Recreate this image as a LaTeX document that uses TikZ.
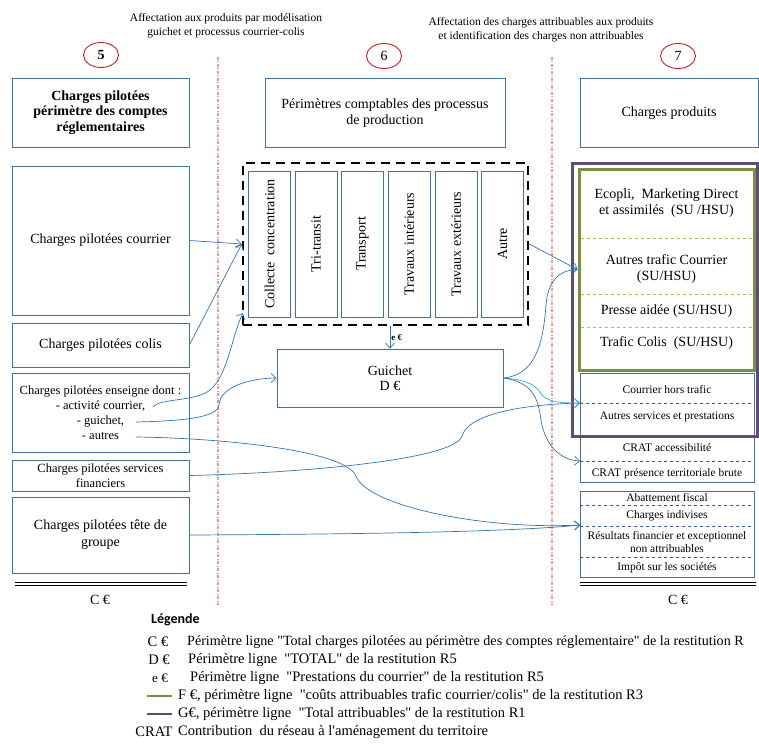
\documentclass[tikz,border=0pt]{standalone}
\usepackage{fontspec}
\setmainfont{Liberation Serif}[Ligatures=TeXOff]
\newfontfamily\legfont{Carlito}
\usetikzlibrary{arrows.meta,shapes.geometric}

\definecolor{boxblue}{HTML}{41719C}
\definecolor{fluxblue}{HTML}{2E75B6}
\definecolor{fluxcyan}{HTML}{1FB0E8}
\definecolor{numred}{HTML}{C8201E}
\definecolor{splitred}{HTML}{F29A92}
\definecolor{grn}{HTML}{77933C}
\definecolor{lgrn}{HTML}{92D050}
\definecolor{prp}{HTML}{604A7B}
\definecolor{dkblue}{HTML}{2F5597}

\newcommand{\bigtxt}{\fontsize{14}{15.5}\selectfont}
\newcommand{\smalltxt}{\fontsize{11.5}{14}\selectfont}
\newcommand{\midtxt}{\fontsize{12.5}{15}\selectfont}
\newcommand{\legtxt}{\fontsize{14.5}{17}\selectfont}

\begin{document}
\begin{tikzpicture}[x=1pt,y=-1pt,>={Straight Barb[length=5pt,width=9pt]},
  every node/.style={font=\bigtxt,inner sep=1pt},
  cbox/.style={draw=boxblue,line width=0.8pt,align=center},
  num/.style={draw=numred,ellipse,line width=0.9pt,minimum width=35pt,minimum height=25pt,inner sep=0pt},
  proc/.style={cbox,rotate=90,minimum width=146pt,minimum height=42pt},
  flux/.style={->,draw=fluxblue,line width=0.7pt},
  split/.style={draw=splitred,line width=1.2pt,dash pattern=on 3pt off 1.5pt on 1pt off 1.5pt},
  sepg/.style={draw=lgrn,dashed,line width=0.7pt},
  sepb/.style={draw=dkblue,dashed,line width=0.7pt},
  total/.style={line width=0.8pt},
  legsym/.style={font=\legtxt},
  legtext/.style={font=\legtxt,anchor=west}]
\useasboundingbox (0,0) rectangle (759,749);

% titres des etapes
\node[font=\smalltxt,align=center] (aff1) at (226,26) {Affectation aux produits par modélisation\\guichet et processus courrier-colis};
\node[font=\smalltxt,align=center] (aff2) at (541,30) {Affectation des charges attribuables aux produits\\et identification des charges non attribuables};
\node[num,font=\bigtxt\bfseries] (n5) at (101,55) {5};
\node[num] (n6) at (384,56) {6};
\node[num] (n7) at (678,56) {7};

% separations
\draw[split] (218,57) -- (218,605);
\draw[split] (552,57) -- (552,605);

% colonne 5
\node[cbox,minimum width=177pt,minimum height=69pt,font=\bigtxt\bfseries] (h5) at (100.5,112.5) {Charges pilotées\\périmètre des comptes\\réglementaires};
\node[cbox,minimum width=177pt,minimum height=149pt] (courrier) at (100.5,240.5) {Charges pilotées courrier};
\node[cbox,minimum width=177pt,minimum height=44pt] (colis) at (100.5,345) {Charges pilotées colis};
\node[cbox,minimum width=177pt,minimum height=79pt,font=\midtxt] (enseigne) at (100.5,412.5) {Charges pilotées enseigne dont :\\- activité courrier,\\- guichet,\\- autres};
\node[cbox,minimum width=177pt,minimum height=31pt,font=\midtxt] (finance) at (100.5,475.5) {Charges pilotées services\\financiers};
\node[cbox,minimum width=177pt,minimum height=76pt,font=\fontsize{14}{17}\selectfont] (tete) at (100.5,535) {Charges pilotées tête de\\groupe};
\draw[total] (15,582) -- (187,582);
\draw[total] (15,585) -- (187,585);
\node (c5) at (100,600) {C €};
\coordinate (enscour) at (153,407);
\coordinate (ensgui) at (136,422);
\coordinate (ensaut) at (136,437);

% colonne 6
\node[cbox,minimum width=240pt,minimum height=69pt] (h6) at (385,113) {Périmètres comptables des processus\\de production};
\node[draw,line width=2.6pt,dash pattern=on 9pt off 6pt,minimum width=285pt,minimum height=162pt] (procs) at (385.5,244) {};
\node[proc] (p1) at (269.5,244) {Collecte~~concentration};
\node[proc] (p2) at (316,244) {Tri-transit};
\node[proc] (p3) at (362.5,244) {Transport};
\node[proc] (p4) at (409,244) {Travaux intérieurs};
\node[proc] (p5) at (456,244) {Travaux extérieurs};
\node[proc] (p6) at (502.5,244) {Autre};
\node[cbox,minimum width=226pt,minimum height=58pt] (guichet) at (390,378) {Guichet\\D €};
\coordinate (procin) at (243,313);

% colonne 7
\node[cbox,minimum width=178pt,minimum height=69pt] (h7) at (669,113) {Charges produits};
\node[draw=grn,line width=3pt,minimum width=175pt,minimum height=201pt] (traf) at (666.5,269.5) {};
\draw[sepg] (581,238) -- (752,238);
\draw[sepg] (581,294) -- (752,294);
\draw[sepg] (581,327) -- (752,327);
\node[align=center] (ecopli) at (666.5,203) {Ecopli,~ Marketing Direct\\et assimilés~ (SU /HSU)};
\node[align=center] (autc) at (666.5,269) {Autres trafic Courrier\\(SU/HSU)};
\node (presse) at (666.5,311) {Presse aidée (SU/HSU)};
\node (trcolis) at (666.5,343) {Trafic Colis~ (SU/HSU)};

\node[cbox,minimum width=174pt,minimum height=109pt] (serv) at (667,427.5) {};
\draw[sepb] (580,403) -- (754,403);
\draw[sepb] (580,461) -- (754,461);
\draw[draw=boxblue,line width=0.8pt] (580,437) -- (754,437);
\node[font=\smalltxt] (horstr) at (667,390) {Courrier hors trafic};
\node[font=\smalltxt] (autserv) at (667,417) {Autres services et prestations};
\node[font=\smalltxt] (cracc) at (667,448) {CRAT accessibilité};
\node[font=\smalltxt] (crpres) at (667,474) {CRAT présence territoriale brute};
\node[draw=prp,line width=3pt,minimum width=185pt,minimum height=273pt] (attr) at (664.5,299.5) {};

\node[cbox,minimum width=174pt,minimum height=86pt] (nonattr) at (667,534) {};
\draw[sepb] (580,505) -- (754,505);
\draw[sepb] (580,526) -- (754,526);
\draw[sepb] (580,557) -- (754,557);
\node[font=\smalltxt] (abat) at (667,497.5) {Abattement fiscal};
\node[font=\smalltxt] (indiv) at (667,516) {Charges indivises};
\node[align=center,font=\fontsize{11.5}{13}\selectfont] (resfin) at (667,542) {Résultats financier et exceptionnel\\non attribuables};
\node[font=\smalltxt] (impot) at (667,568) {Impôt sur les sociétés};
\draw[total] (580,582) -- (756,582);
\draw[total] (580,585) -- (756,585);
\node (c7) at (678,600) {C €};
\coordinate (svin) at (580,403);
\coordinate (crin) at (580,461);
\coordinate (lowin) at (580,525);

% flux
\draw[flux] (courrier.east) -- (procs.west);
\draw[flux] (colis.east) -- (procs.west);
\draw[flux] (enscour) .. controls (160,398) and (195,402) .. (210,390) .. controls (228,375) and (232,335) .. (procin);
\draw[flux] (ensgui) .. controls (180,421) and (218,418) .. (219,405) .. controls (220,385) and (255,378) .. (guichet.west);
\draw[flux] (ensaut) .. controls (220,438) and (345,450) .. (356,476) .. controls (366,505) and (480,530) .. (lowin);
\draw[flux] (tete.east) .. controls (400,534) and (520,531) .. (lowin);
\draw[flux] (finance.east) .. controls (300,473) and (455,460) .. (462,436) .. controls (470,410) and (540,404) .. (svin);
\draw[flux] (procs.south -| guichet.north) -- node[right,font=\fontsize{9}{10}\selectfont\bfseries] {e €} (guichet.north);
\draw[flux] (procs.east) -- (traf.west);
\draw[flux] (guichet.east) .. controls (535,375) and (543,345) .. (546,305) .. controls (548,280) and (560,270) .. (traf.west);
\draw[flux,draw=fluxcyan] (guichet.east) .. controls (530,380) and (536,386) .. (542,395) .. controls (548,402) and (560,403) .. (svin);
\draw[flux,draw=boxblue] (guichet.east) .. controls (530,382) and (538,395) .. (541,420) .. controls (545,445) and (560,460) .. (crin);

% legende
\node[font=\fontsize{14}{16}\selectfont\legfont\bfseries,anchor=west] (leg) at (150,620) {Légende};
\node[legsym] (lc) at (158,642) {C €};
\node[legtext,font=\fontsize{14.1}{17}\selectfont] (tc) at (186,642) {Périmètre ligne "Total charges pilotées au périmètre des comptes réglementaire" de la restitution R};
\node[legsym] (ld) at (159,660) {D €};
\node[legtext] (td) at (187,660) {Périmètre ligne~ "TOTAL" de la restitution R5};
\node[legsym,font=\fontsize{13}{15}\selectfont] (le) at (160,678) {e €};
\node[legtext] (te) at (189,678) {Périmètre ligne~ "Prestations du courrier" de la restitution R5};
\draw[grn,line width=2.5pt] (147,696) -- (172,696);
\node[legtext] (tf) at (177,696) {F €, périmètre ligne~ "coûts attribuables trafic courrier/colis" de la restitution R3};
\draw[prp,line width=2.5pt] (147,714) -- (172,714);
\node[legtext] (tg) at (177,714) {G€, périmètre ligne~ "Total attribuables" de la restitution R1};
\node[legsym] (lcrat) at (154,732) {CRAT};
\node[legtext] (tcrat) at (177,732) {Contribution~ du réseau à l'aménagement du territoire};
\end{tikzpicture}
\end{document}
